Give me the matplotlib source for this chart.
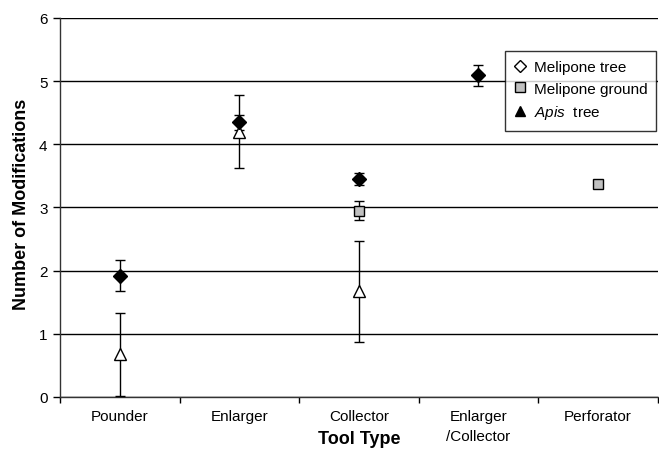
import numpy as np
import matplotlib
matplotlib.use("Agg")
import matplotlib.pyplot as plt
from matplotlib.lines import Line2D

plt.rcParams['font.family'] = ['Liberation Sans', 'DejaVu Sans']
plt.rcParams['mathtext.fontset'] = 'custom'
plt.rcParams['mathtext.it'] = 'Liberation Sans:italic'
plt.rcParams['mathtext.rm'] = 'Liberation Sans'

# categories on the x axis
tools = ['Pounder', 'Enlarger', 'Collector', 'Enlarger\n/Collector', 'Perforator']

# mean number of modifications (nan = no data) and error half-widths
mel_tree = [1.92, 4.35, 3.45, 5.09, np.nan]
mel_tree_err = [0.24, 0.12, 0.10, 0.16, np.nan]

mel_ground = [np.nan, np.nan, 2.95, np.nan, 3.37]
mel_ground_err = [np.nan, np.nan, 0.15, np.nan, 0.0]

apis_tree = [0.67, 4.20, 1.67, np.nan, np.nan]
apis_tree_err = [0.66, 0.58, 0.80, np.nan, np.nan]

x = np.arange(len(tools))

fig = plt.figure(figsize=(6.59, 4.52), dpi=100)
ax = fig.add_axes([0.091, 0.12, 0.907, 0.838])

# error bars first, markers on top
for vals, errs in [(apis_tree, apis_tree_err), (mel_ground, mel_ground_err), (mel_tree, mel_tree_err)]:
    ax.errorbar(x, vals, yerr=errs, fmt='none', ecolor='black', elinewidth=1.0,
                capsize=3.5, capthick=1.0, zorder=3)

ax.plot(x, apis_tree, linestyle='none', marker='^', markersize=9,
        markerfacecolor='white', markeredgecolor='black', markeredgewidth=1.0, zorder=4)
ax.plot(x, mel_ground, linestyle='none', marker='s', markersize=7.5,
        markerfacecolor='#c0c0c0', markeredgecolor='black', markeredgewidth=1.0, zorder=4)
ax.plot(x, mel_tree, linestyle='none', marker='D', markersize=7,
        markerfacecolor='black', markeredgecolor='black', zorder=5)

ax.set_xlim(-0.5, len(tools) - 0.5)
ax.set_ylim(0, 6)
ax.set_yticks(range(0, 7))
ax.yaxis.grid(True, color='black', linewidth=1.0)
ax.set_axisbelow(True)

ax.set_xticks(x)
ax.set_xticklabels(tools, fontsize=11, linespacing=1.55)
ax.set_xticks(np.arange(-0.5, len(tools), 1.0), minor=True)
ax.tick_params(axis='x', which='major', length=0, pad=9)
ax.tick_params(axis='x', which='minor', length=4, width=1, direction='out')
ax.tick_params(axis='y', length=5, width=1, direction='out', labelsize=11, pad=4)

for s in ['top', 'right']:
    ax.spines[s].set_visible(False)
for s in ['left', 'bottom']:
    ax.spines[s].set_linewidth(1.0)
    ax.spines[s].set_color('#333333')

ax.set_xlabel('Tool Type', fontsize=13, fontweight='bold')
ax.xaxis.set_label_coords(0.5, -0.087)
ax.set_ylabel('Number of Modifications', fontsize=13, fontweight='bold')
ax.yaxis.set_label_coords(-0.05, 0.51)

handles = [
    Line2D([], [], linestyle='none', marker='D', markersize=6, markerfacecolor='white',
           markeredgecolor='black', label='Melipone tree'),
    Line2D([], [], linestyle='none', marker='s', markersize=7, markerfacecolor='#c0c0c0',
           markeredgecolor='black', label='Melipone ground'),
    Line2D([], [], linestyle='none', marker='^', markersize=7, markerfacecolor='black',
           markeredgecolor='black', label=r'$\mathit{Apis}$  tree'),
]
leg = ax.legend(handles=handles, loc='upper right', bbox_to_anchor=(0.998, 0.913),
                fontsize=11, frameon=True, fancybox=False, edgecolor='black',
                handlelength=0.8, handletextpad=0.5, borderpad=0.6, labelspacing=0.5,
                borderaxespad=0)
leg.get_frame().set_linewidth(1.0)
leg.set_zorder(6)

fig.savefig('out.png', dpi=100)
